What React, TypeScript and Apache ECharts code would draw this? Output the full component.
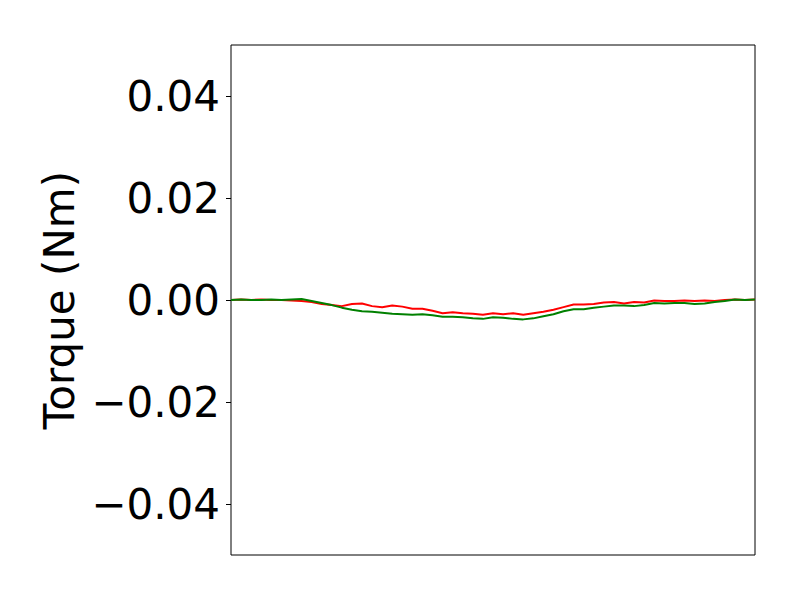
import React, { useEffect, useRef } from "react";
import * as echarts from "echarts";

// sample positions (evenly spaced along the time axis, no labels shown)
const samples: number[] = Array.from({ length: 53 }, (_, i) => i);

const redTorque: number[] = [
  0.0, 0.0001, 0.0, 0.0001, 0.0, 0.0, -0.0001, -0.0002, -0.0004, -0.0008,
  -0.001, -0.0012, -0.0008, -0.0007, -0.0012, -0.0014, -0.0011, -0.0013, -0.0017, -0.0017,
  -0.0021, -0.0026, -0.0024, -0.0026, -0.0027, -0.0029, -0.0026, -0.0028, -0.0026, -0.0029,
  -0.0026, -0.0023, -0.0019, -0.0014, -0.0009, -0.0009, -0.0008, -0.0005, -0.0004, -0.0007,
  -0.0004, -0.0005, -0.0001, -0.0002, -0.0002, -0.0001, -0.0002, -0.0001, -0.0002, 0.0,
  0.0001, 0.0, 0.0001,
];

const greenTorque: number[] = [
  0.0, 0.0001, 0.0, 0.0, 0.0001, 0.0, 0.0001, 0.0002, -0.0002, -0.0006,
  -0.001, -0.0015, -0.0019, -0.0022, -0.0023, -0.0025, -0.0027, -0.0028, -0.0029, -0.0028,
  -0.003, -0.0033, -0.0033, -0.0034, -0.0036, -0.0037, -0.0034, -0.0035, -0.0037, -0.0038,
  -0.0036, -0.0032, -0.0028, -0.0022, -0.0018, -0.0018, -0.0015, -0.0013, -0.0011, -0.0011,
  -0.0012, -0.001, -0.0006, -0.0007, -0.0006, -0.0006, -0.0008, -0.0007, -0.0004, -0.0002,
  0.0001, 0.0, 0.0001,
];

const yTicks: number[] = [-0.04, -0.02, 0, 0.02, 0.04];
const yLabel = "Torque (Nm)";

export default function App() {
  const ref = useRef<HTMLDivElement>(null);
  useEffect(() => {
    if (!ref.current) return;
    const chart = echarts.init(ref.current, null, { renderer: "svg" });
    const font = "DejaVu Sans";
    chart.setOption({
      animation: false,
      backgroundColor: "#ffffff",
      grid: {
        left: 231,
        right: 45,
        top: 45,
        bottom: 45,
        show: true,
        borderColor: "#000",
        borderWidth: 1,
        backgroundColor: "transparent",
      },
      xAxis: {
        type: "value",
        min: 0,
        max: samples[samples.length - 1],
        axisLine: { show: false },
        axisTick: { show: false },
        axisLabel: { show: false },
        splitLine: { show: false },
      },
      yAxis: {
        type: "value",
        min: -0.05,
        max: 0.05,
        name: yLabel,
        nameLocation: "middle",
        nameRotate: 90,
        nameGap: 146,
        nameTextStyle: { fontFamily: font, fontSize: 42, color: "#000" },
        axisLine: { show: false },
        axisTick: {
          show: true,
          length: 5,
          lineStyle: { color: "#000", width: 1 },
          customValues: yTicks,
        },
        axisLabel: {
          show: true,
          margin: 11,
          fontFamily: font,
          fontSize: 42,
          color: "#000",
          customValues: yTicks,
          formatter: (v: number) => v.toFixed(2).replace("-", "\u2212"),
        },
        splitLine: { show: false },
      },
      series: [
        {
          type: "line",
          data: samples.map((x, i) => [x, redTorque[i]]),
          showSymbol: false,
          lineStyle: { color: "#ff0000", width: 2 },
          itemStyle: { color: "#ff0000" },
          z: 2,
        },
        {
          type: "line",
          data: samples.map((x, i) => [x, greenTorque[i]]),
          showSymbol: false,
          lineStyle: { color: "#008000", width: 2 },
          itemStyle: { color: "#008000" },
          z: 3,
        },
      ],
    });
    return () => chart.dispose();
  }, []);
  return <div ref={ref} style={{ width: 800, height: 600, margin: -8 }} />;
}
